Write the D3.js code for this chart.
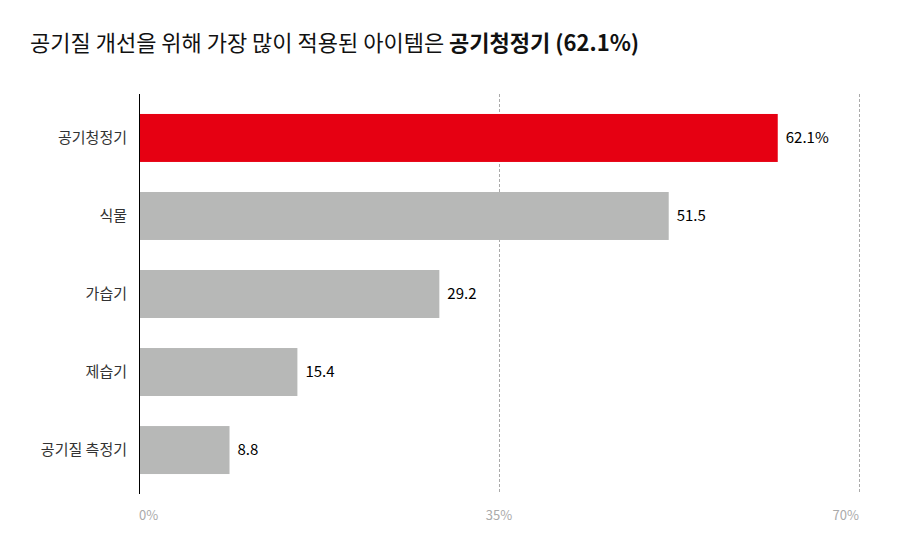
<!DOCTYPE html>
<html><head><meta charset="utf-8">
<script src="https://cdn.jsdelivr.net/npm/d3@7/dist/d3.min.js"></script>
<style>
body{margin:0;background:#fff;}
svg{display:block;font-family:"Noto Sans CJK KR","Noto Sans",sans-serif;}
</style></head>
<body><svg id="c" width="900" height="550"></svg>
<script>
const categories = ["공기청정기","식물","가습기","제습기","공기질 측정기"];
const values = [62.1, 51.5, 29.2, 15.4, 8.8];
const valueLabels = ["62.1%","51.5","29.2","15.4","8.8"];
const tickValues = [0, 35, 70];
const tickLabels = ["0%","35%","70%"];
const titleRegular = "공기질 개선을 위해 가장 많이 적용된 아이템은 ";
const titleBold = "공기청정기 (62.1%)";

const svg = d3.select("#c");
const x = d3.scaleLinear().domain([0,70]).range([139,859]);
const y = d3.scaleBand().domain(categories).range([94,494]).paddingInner(0.385).paddingOuter(0.256);

const t = svg.append("text").attr("x",30).attr("y",51).attr("font-size",22).attr("fill","#111");
t.append("tspan").text(titleRegular);
t.append("tspan").attr("font-weight","bold").text(titleBold);

// gridlines
svg.append("g").selectAll("line").data(tickValues.slice(1)).join("line")
  .attr("x1",d=>x(d)+0.5).attr("x2",d=>x(d)+0.5).attr("y1",94).attr("y2",494)
  .attr("stroke","#aaa").attr("stroke-dasharray","3,2");

// bars
svg.append("g").selectAll("rect").data(values).join("rect")
  .attr("x",x(0)).attr("y",(d,i)=>y(categories[i]))
  .attr("width",d=>x(d)-x(0)).attr("height",y.bandwidth())
  .attr("fill",(d,i)=>i===0?"#e60012":"#b7b8b7");

// axis line
svg.append("line").attr("x1",x(0)+0.5).attr("x2",x(0)+0.5).attr("y1",94).attr("y2",494)
  .attr("stroke","#000").attr("stroke-width",1);

// category labels
svg.append("g").selectAll("text").data(categories).join("text")
  .attr("x",127).attr("y",d=>y(d)+y.bandwidth()/2).attr("dy","0.35em")
  .attr("text-anchor","end").attr("font-size",15).attr("fill","#333").text(d=>d);

// value labels
svg.append("g").selectAll("text").data(values).join("text")
  .attr("x",d=>x(d)+8).attr("y",(d,i)=>y(categories[i])+y.bandwidth()/2).attr("dy","0.35em")
  .attr("font-size",15).attr("fill","#000").text((d,i)=>valueLabels[i]);

// tick labels
svg.append("g").selectAll("text").data(tickValues).join("text")
  .attr("x",d=>x(d)).attr("y",520)
  .attr("text-anchor",(d,i)=>i===0?"start":(i===tickValues.length-1?"end":"middle"))
  .attr("font-size",13).attr("fill","#aaa").text((d,i)=>tickLabels[i]);
</script></body></html>
